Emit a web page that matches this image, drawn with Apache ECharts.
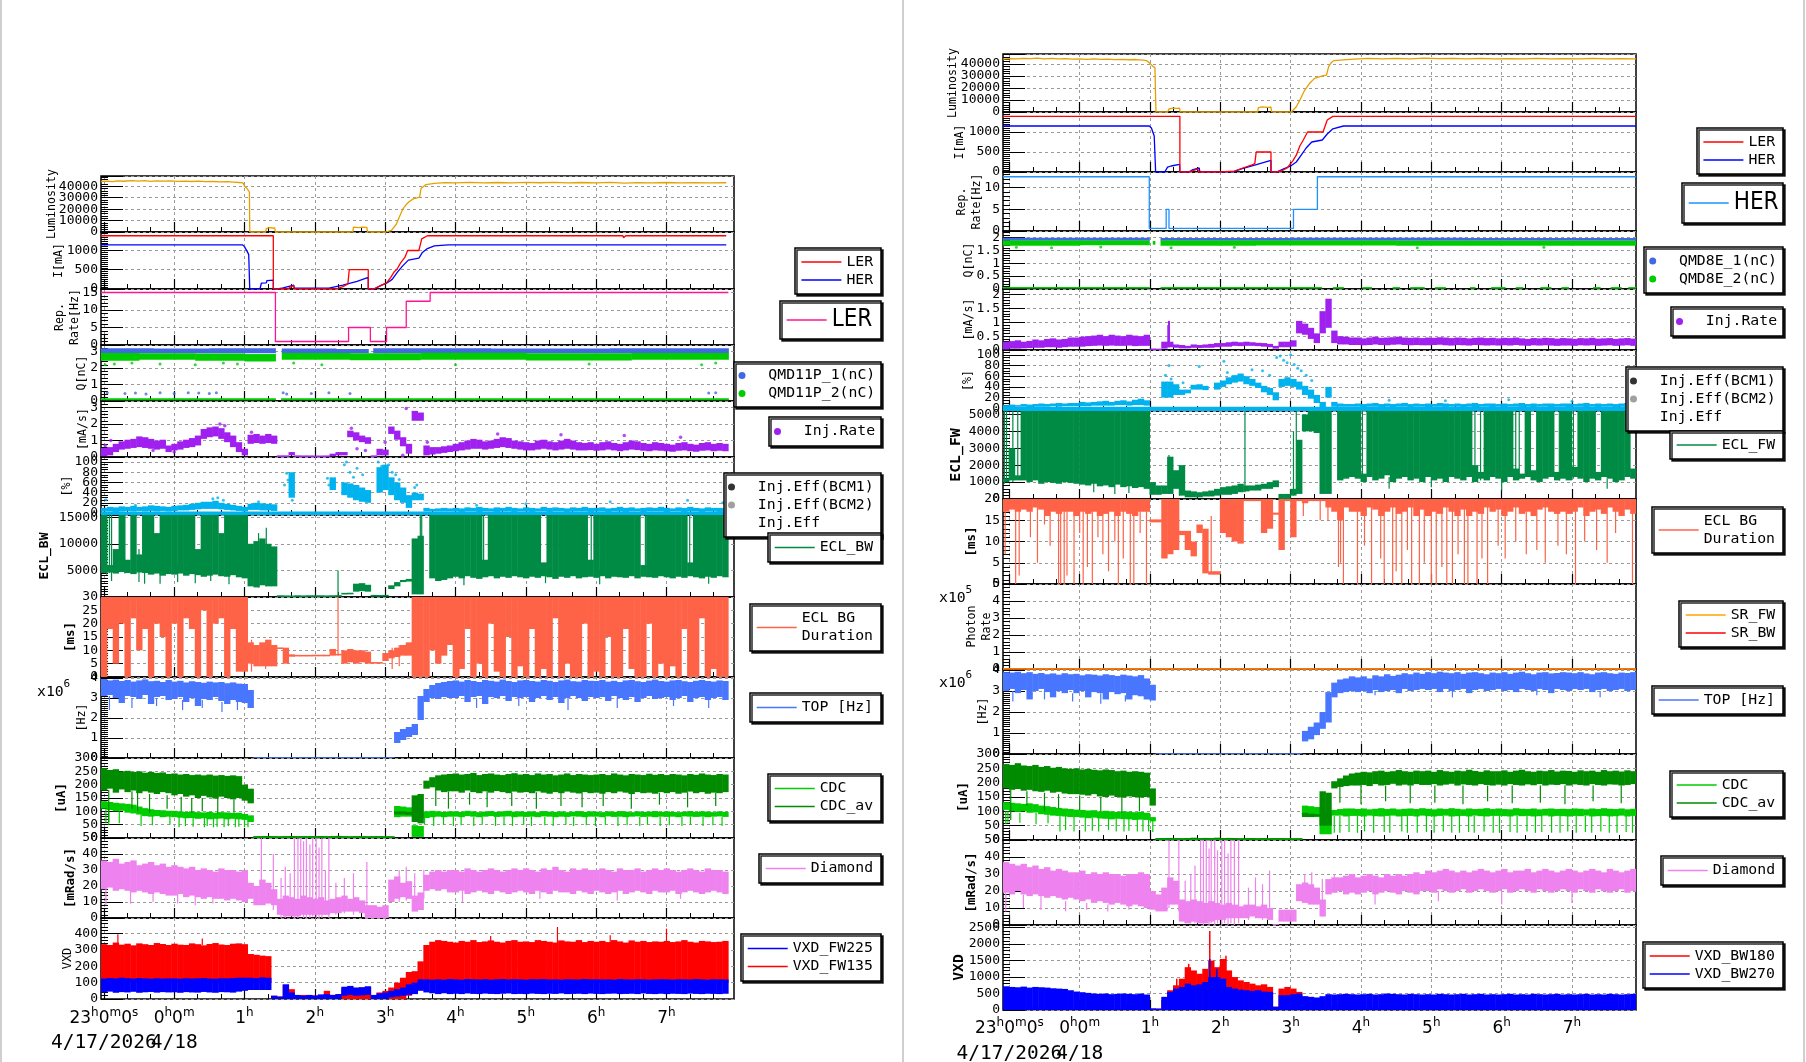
<!DOCTYPE html>
<html><head><meta charset="utf-8">
<script src="https://cdn.jsdelivr.net/npm/echarts@6/dist/echarts.min.js"></script>
<style>html,body{margin:0;padding:0;background:#fff}#c{width:1806px;height:1062px}</style>
</head><body><div id="c"></div>
<script>
// ---------------- DATA ----------------
const DT = 1/12;          // sampling step of banded series (hours)
const LT0 = -1.04;        // left panel: first sample time (h, rel. to 0:00 4/18)
const RT0 = -1.09;        // right panel: first sample time
const HOURS = [-1,0,1,2,3,4,5,6,7];
const HOUR_LABELS = {'-1':'{n|23}{s|h}{n|0}{s|m}{n|0}{s|s}','0':'{n|0}{s|h}{n|0}{s|m}','1':'{n|1}{s|h}','2':'{n|2}{s|h}','3':'{n|3}{s|h}','4':'{n|4}{s|h}','5':'{n|5}{s|h}','6':'{n|6}{s|h}','7':'{n|7}{s|h}'};
const DATE_LABELS = [[-1,'4/17/2026'],[0,'4/18']];

// y tick labels per panel
const L_YTICKS = [[0,10000,20000,30000,40000],[0,500,1000],[0,5,10,15],[0,1,2,3],[0,1,2,3],[0,20,40,60,80,100],[5000,10000,15000],[0,5,10,15,20,25,30],[0,1,2,3,4],[0,50,100,150,200,250,300],[0,10,20,30,40,50],[0,100,200,300,400]];
const R_YTICKS = [[0,10000,20000,30000,40000],[0,500,1000],[0,5,10],[0,0.5,1,1.5,2],[0,0.5,1,1.5,2],[0,20,40,60,80,100],[0,1000,2000,3000,4000,5000],[0,5,10,15,20],[0,1,2,3,4,5],[0,1,2,3,4],[0,50,100,150,200,250,300],[0,10,20,30,40,50],[0,500,1000,1500,2000,2500]];

// ---- LEFT (LER side) ----
const L_LUM = [[-1.04,44200],[-0.95,44600],[-0.88,44100],[-0.8,44700],[-0.72,44400],[-0.6,45000],[-0.5,44600],[-0.42,44900],[-0.33,44300],[-0.25,44800],[-0.15,44500],[-0.05,44700],[0.05,44300],[0.15,44600],[0.25,44200],[0.35,44500],[0.45,44000],[0.55,44200],[0.65,43800],[0.75,44000],[0.85,43600],[0.92,43300],[0.98,43000],[1.0,40000],[1.04,37800],[1.07,35000],[1.075,0],[1.3,0],[1.31,3000],[1.35,3800],[1.4,3500],[1.43,3600],[1.44,0],[2.54,0],[2.55,4200],[2.62,3900],[2.68,4300],[2.74,4100],[2.75,0],[3.01,0],[3.09,1500],[3.16,7000],[3.2,13000],[3.25,20000],[3.3,24000],[3.34,26500],[3.4,29000],[3.49,30500],[3.51,38000],[3.58,41500],[3.7,42500],[3.85,43200],[4.0,43000],[4.2,43400],[4.4,42900],[4.6,43300],[4.8,43000],[5.0,43500],[5.2,43100],[5.4,43400],[5.6,42900],[5.8,43300],[6.0,43000],[6.2,43400],[6.4,42800],[6.6,43200],[6.8,43000],[7.0,43300],[7.2,42900],[7.4,43200],[7.6,42900],[7.85,43100]];
const L_LER_I = [[-1.04,1383],[1.41,1383],[1.41,0],[1.62,0],[1.65,50],[1.7,85],[1.71,0],[2.3,0],[2.4,60],[2.47,130],[2.49,505],[2.76,505],[2.76,0],[2.84,0],[2.95,100],[3.02,160],[3.08,300],[3.13,450],[3.17,520],[3.22,680],[3.28,820],[3.32,1000],[3.48,1000],[3.52,1300],[3.6,1383],[6.38,1383],[6.39,1330],[6.42,1383],[7.85,1383]];
const L_HER_I = [[-1.04,1148],[0.97,1148],[1.0,1100],[1.06,900],[1.075,0],[1.22,0],[1.24,150],[1.31,160],[1.32,220],[1.41,230],[1.41,0],[1.47,0],[1.55,30],[1.7,100],[1.71,20],[2.2,20],[2.4,100],[2.6,200],[2.76,300],[2.76,0],[2.84,0],[2.95,100],[3.02,150],[3.1,250],[3.18,450],[3.25,600],[3.33,750],[3.48,800],[3.53,950],[3.6,1050],[3.7,1120],[3.9,1148],[7.85,1148]];
const L_REP = [[-1.04,15],[1.44,15],[1.44,1],[2.48,1],[2.48,5],[2.79,5],[2.79,1],[3.02,1],[3.02,5],[3.3,5],[3.3,12.5],[3.64,12.5],[3.64,15],[7.88,15]];
// Q bands: [t0, t1, lo, hi]
const L_Q1 = [[-1.04,-0.3,2.9,3.2],[-0.3,0.5,2.9,3.18],[0.5,1.44,2.9,3.21],[1.53,2.3,2.9,3.18],[2.3,2.76,2.9,3.16],[2.83,4.5,2.9,3.2],[4.5,6.2,2.9,3.18],[6.2,7.88,2.9,3.21]];
const L_Q2 = [[-1.04,-0.5,2.45,2.92],[-0.5,0.3,2.5,2.9],[0.3,1.0,2.45,2.88],[1.0,1.44,2.4,2.85],[1.53,2.5,2.5,2.92],[2.5,3.5,2.48,2.9],[3.5,5.0,2.5,2.93],[5.0,6.5,2.46,2.9],[6.5,7.88,2.5,2.92]];
const L_Q2_LOW = [[-1.04,1.44,0.04,0.16],[1.52,7.88,0.04,0.16]];
const L_Q1_DOTS = [[-0.95,0.5],[-0.7,0.45],[-0.55,0.48],[-0.4,0.42],[-0.2,0.5],[0.0,0.45],[0.2,0.5],[0.35,0.48],[0.5,0.45],[0.6,0.5],[1.55,0.5],[1.6,0.42],[1.95,0.45],[2.2,0.5],[2.5,0.45],[7.6,0.48],[7.7,0.5]];
const L_Q2_DOTS = [[-0.98,2.2],[-0.85,2.25],[-0.6,2.3],[-0.2,2.25],[0.3,2.2],[0.7,2.3],[0.9,2.25],[1.7,2.3],[2.1,2.2],[4.0,2.2],[5.9,2.25],[7.5,2.2],[7.7,2.3]];
const L_RATE_HI = [
0.55,0.6,0.8,0.95,1.05,1.1,1.25,1.2,1.1,1.0,1.05,0.7,
0.8,0.95,1.05,1.15,1.3,1.7,1.8,1.85,1.75,1.5,1.3,0.9,
0.5,1.35,1.4,1.3,1.4,1.3,0.08,0.08,0.3,0.08,0.07,0.07,
0.06,0.06,0.07,0.2,0.3,0.3,1.6,1.5,1.3,1.2,0.08,0.5,
0.45,1.85,1.6,1.2,0.8,2.8,2.7,0.7,0.6,0.6,0.65,0.7,
0.8,0.9,1.0,1.1,1.05,0.95,1.0,1.1,1.2,1.15,1.0,0.95,
0.9,0.85,1.0,1.05,0.95,0.9,1.0,1.1,1.0,0.9,0.85,0.9,
0.8,0.9,0.95,0.85,0.8,0.9,1.0,0.95,0.85,0.8,0.9,0.85,
0.8,0.75,0.85,0.9,0.8,0.75,0.85,0.9,0.8,0.85,0.8,null];
const L_RATE_LO = [
0.05,0.1,0.3,0.45,0.5,0.55,0.6,0.55,0.5,0.45,0.5,0.3,
0.4,0.45,0.55,0.6,0.7,1.1,1.2,1.25,1.1,0.9,0.6,0.3,
0.1,0.8,0.85,0.8,0.85,0.8,0.02,0.02,0.1,0.02,0.02,0.02,
0.02,0.02,0.02,0.05,0.1,0.1,1.2,1.0,0.9,0.8,0.02,0.1,
0.1,1.4,1.05,0.65,0.2,2.2,2.2,0.1,0.15,0.2,0.25,0.3,
0.35,0.4,0.45,0.5,0.5,0.45,0.5,0.55,0.6,0.55,0.5,0.45,
0.4,0.4,0.45,0.5,0.45,0.4,0.45,0.5,0.45,0.4,0.4,0.42,
0.38,0.4,0.45,0.4,0.35,0.4,0.45,0.42,0.38,0.35,0.4,0.38,
0.35,0.32,0.38,0.4,0.35,0.32,0.38,0.4,0.35,0.38,0.35,null];
const L_RATE_DOTS = [[-0.98,0.7],[-0.9,1.0],[-0.3,0.4],[0.0,0.3],[0.65,2.0],[0.72,1.9],[1.1,1.5],[2.52,1.75],[2.6,0.5],[2.72,0.4],[3.0,0.9],[3.3,2.95],[3.25,0.1],[3.6,0.9],[4.6,1.4],[5.5,1.35],[6.4,1.3],[7.2,1.2]];
const L_EFF_BASE = [[-1.04,7.88,-4,3]];
const L_EFF_HI = [
10,12,11,13,12,14,12,13,15,14,13,12,
14,15,16,18,20,22,22,24,20,18,16,14,
12,18,20,19,18,17,null,null,80,null,null,null,
null,null,null,70,null,60,58,55,50,45,null,90,
95,70,60,50,35,40,38,10,8,9,10,9,
10,9,11,10,12,10,9,11,10,12,10,9,
11,10,9,12,10,11,10,9,11,10,12,10,
10,11,9,10,12,10,11,9,10,11,10,12,
10,9,11,10,12,10,9,11,10,10,9,null];
const L_EFF_LO = [
3,3,2,3,4,3,4,3,4,3,4,3,
4,5,5,6,7,8,8,8,7,6,5,4,
3,6,6,5,5,4,null,null,30,null,null,null,
null,null,null,45,null,35,30,25,22,20,null,40,
45,35,25,20,10,25,25,3,3,3,3,3,
3,2,3,3,2,3,3,2,3,3,2,3,
3,2,3,3,2,3,3,2,3,3,3,2,
3,3,2,3,3,2,3,3,2,3,3,3,
2,3,3,2,3,3,2,3,3,2,3,null];
const L_EFF_DOTS = [[-0.97,26],[-0.55,15],[0.55,28],[0.7,25],[0.62,30],[1.2,22],[1.57,55],[1.6,78],[1.62,65],[1.65,45],[1.68,25],[2.18,68],[2.2,55],[2.42,95],[2.45,100],[2.5,80],[2.55,70],[2.6,88],[2.68,75],[2.9,100],[2.95,92],[3.0,85],[3.05,95],[3.1,80],[3.15,75],[3.2,66],[3.42,50],[3.45,55],[4.3,15],[5.0,18],[6.2,22],[7.3,25],[7.8,20]];
const L_ECL_HI = [
15400,6000,9000,15400,7000,15400,8000,15400,15400,12000,15400,15400,
15400,15400,15400,15400,9000,15400,15400,15400,12000,15400,15400,15400,
15400,10000,10500,11000,10000,9500,300,250,200,300,250,300,
300,300,250,300,350,700,700,2500,2600,2300,400,350,
400,2200,2800,3200,3400,11000,11500,null,15400,15400,15400,15400,
15400,15400,15400,15400,15400,7000,15400,15400,15400,15400,15400,15400,
15400,15400,15400,6500,15400,15400,15400,15400,15400,15400,15400,7000,
15400,15400,15400,15400,15400,15400,15400,15400,6000,15400,15400,15400,
15400,15400,15400,15400,6500,15400,15400,15400,15400,15400,15400,null];
const L_ECL_LO = [
4500,4600,4400,4700,4500,4300,4600,4500,4200,4400,4000,4300,
4200,4400,4000,4300,4100,3800,4000,4200,3900,3800,4100,3700,
3500,2000,1800,2200,2000,2000,50,50,50,50,50,50,
50,50,50,50,50,550,600,1000,1100,1000,100,100,
100,1500,2000,2800,2900,500,500,null,3500,3000,3200,3500,
3800,3500,3900,3600,3400,3700,3900,3500,3800,3600,3900,3700,
3500,3800,3600,3900,3700,3400,3800,3600,3900,3500,3700,3800,
3600,3900,3500,3800,3700,3600,3900,3500,3800,3700,3600,3900,
3700,3500,3800,3600,3900,3700,3500,3800,3600,3900,3700,null];
const L_ECL_SPK = [[-0.96,4200,15400],[-0.92,4500,15400],[-0.89,3000,15400],[-0.7,4400,15400],[-0.56,4300,15400],[-0.42,2500,15400],[-0.5,2800,9000],[-0.2,2500,7000],[0.05,2800,6000],[0.3,2600,7000],[0.52,3000,8000],[0.78,2400,6000],[1.2,1800,12000],[1.31,2000,13000],[2.33,200,5000],[3.5,500,15400],[3.52,3000,15400],[4.12,2200,5000],[4.4,5000,15400],[4.47,5200,15400],[5.2,5000,15400],[5.28,2600,5000],[5.93,5500,15400],[6.05,2400,5000],[6.7,5000,15400],[6.76,4800,15400],[7.33,4200,15400],[7.6,2500,5000]];
const L_BG_HI = [
30,30,30,30,30,30,30,30,30,30,30,30,
30,30,30,30,30,30,30,30,30,30,30,30,
30,13,12,13,14,12,11,11,8.5,8.2,8.2,8.2,
8.3,8.3,8.3,10.5,8.6,10,10.5,10,10,9.5,5.6,5.6,
9,10,11,12,13,30,30,30,30,30,30,30,
30,30,30,30,30,30,30,30,30,30,30,30,
30,30,30,30,30,30,30,30,30,30,30,30,
30,30,30,30,30,30,30,30,30,30,30,30,
30,30,30,30,30,30,30,30,30,30,30,null];
const L_BG_LO = [
0,18,5,20,0,22,10,18,0,20,15,0,
20,0,22,18,0,25,0,20,22,0,18,2,
2,5,4,4,4,4,10.6,5,7.6,7.8,7.8,7.8,
7.8,7.8,7.8,8,8.2,5,5.5,5,5.5,5,5,5,
6,7,7.5,8,8,0,0,0,10,5,8,12,
0,3,18,0,5,0,20,2,0,15,0,4,
0,18,0,3,0,22,0,5,0,0,20,0,
2,0,15,0,0,18,3,0,0,20,0,5,
0,4,0,18,0,0,22,0,3,0,0,null];
const L_BG_SPK = [[2.33,8,30],[1.3,3,13],[1.1,2,14],[3.1,3,11],[3.2,4,12],[-0.98,0,30],[4.05,0,30],[5.55,0,30],[6.6,0,30]];
const L_TOP_HI = [
3.95,3.88,3.92,3.85,3.9,3.82,3.88,3.93,3.84,3.86,3.8,3.9,
3.82,3.86,3.78,3.84,3.8,3.76,3.82,3.78,3.8,3.74,3.78,3.72,
3.7,3.4,0,0,0,0,0,0,0,0,0,0,
0,0,0,0,0,0,0,0,0,0,0,0,
0,0,1.3,1.45,1.55,1.7,3.1,3.45,3.65,3.75,3.8,3.85,
3.88,3.82,3.9,3.85,3.8,3.9,3.86,3.82,3.92,3.85,3.8,3.88,
3.9,3.85,3.82,3.9,3.86,3.8,3.88,3.92,3.84,3.82,3.9,3.86,
3.85,3.9,3.82,3.86,3.8,3.88,3.9,3.84,3.8,3.87,3.92,3.85,
3.82,3.88,3.9,3.84,3.8,3.86,3.9,3.85,3.82,3.88,3.85,null];
const L_TOP_LO = [
3.1,3.15,3.0,2.75,3.1,3.05,2.95,3.15,2.7,3.05,3.1,2.9,
2.95,3.05,2.8,3.0,2.6,2.95,2.9,3.05,2.85,2.7,2.9,2.8,
2.75,2.5,0,0,0,0,0,0,0,0,0,0,
0,0,0,0,0,0,0,0,0,0,0,0,
0,0,0.75,0.9,1.05,1.15,1.9,2.8,3.0,2.95,3.05,3.0,
3.0,3.1,2.8,3.05,3.1,2.7,3.05,3.0,3.1,2.85,3.05,3.0,
3.05,2.8,3.0,3.1,2.9,3.05,2.75,3.0,3.1,3.0,2.85,3.05,
3.0,3.05,2.85,3.1,3.0,2.9,3.05,2.8,3.0,3.1,2.95,3.0,
3.05,2.9,3.0,3.1,2.8,3.0,3.05,2.9,3.0,3.05,2.9,null];
const L_TOP_SPK = [[-0.92,2.4,3.1],[-0.6,2.5,3.0],[-0.25,2.6,3.0],[0.12,2.4,2.9],[0.4,2.5,2.9],[0.68,2.3,2.8],[0.9,2.4,2.8],[4.3,2.5,3.0],[4.9,2.6,3.0],[5.6,2.4,3.0],[6.3,2.5,3.0],[7.1,2.6,3.0],[7.6,2.5,3.0]];
const L_CDCAV_HI = [
262,255,258,250,252,248,250,245,248,244,246,240,
242,238,240,236,238,235,238,234,236,233,235,232,
200,185,6,6,7,6,5,6,7,6,6,6,
6,7,6,6,8,6,5,6,6,5,6,6,
5,5,100,100,98,160,165,215,228,235,238,240,
242,238,240,244,236,240,242,238,236,240,243,238,
240,236,242,238,240,235,238,242,236,240,238,236,
238,240,236,242,238,235,240,238,236,241,237,240,
236,240,238,235,240,237,242,238,236,240,238,null];
const L_CDCAV_LO = [
178,185,170,182,172,178,168,175,170,165,172,168,
160,165,155,160,150,158,152,148,155,150,145,150,
140,130,2,2,2,2,2,2,2,2,2,2,
2,2,2,2,2,2,2,2,2,2,2,2,
2,2,88,88,86,60,55,185,190,178,172,175,
175,170,178,172,168,175,170,176,172,168,174,170,
172,168,175,170,166,172,168,174,170,167,172,168,
170,166,172,168,174,170,165,172,168,170,166,172,
168,172,166,170,174,168,172,166,170,168,172,null];
const L_CDC_HI = [
138,135,132,130,128,125,118,112,108,105,104,102,
102,100,98,100,97,96,98,95,97,96,94,95,
90,85,5,5,6,5,5,5,6,5,5,5,
5,6,5,5,7,5,5,5,5,5,5,5,
5,5,120,118,115,48,45,100,102,100,98,100,
100,98,102,100,97,99,101,98,100,102,99,100,
98,100,97,101,99,98,100,97,99,101,98,100,
99,97,100,98,101,99,97,100,98,99,101,98,
100,98,97,99,101,98,100,99,97,100,98,null];
const L_CDC_LO = [
110,105,100,102,95,92,88,82,80,82,78,80,
78,76,74,75,72,74,70,72,73,70,72,70,
68,60,1,1,1,1,1,1,1,1,1,1,
1,1,1,1,1,1,1,1,1,1,1,1,
1,1,78,80,80,4,4,75,78,80,78,80,
80,78,82,80,78,80,82,79,80,81,78,80,
79,80,78,81,80,78,80,79,81,80,78,80,
80,78,81,79,80,78,80,81,79,80,78,80,
79,80,78,81,80,79,80,78,80,81,79,null];
const L_CDC_SPK = [[-0.97,55,110],[-0.93,50,105],[-0.78,55,100],[-0.47,45,95],[-0.31,48,90],[-0.06,50,85],[0.07,40,80],[0.16,45,80],[0.27,42,80],[0.43,40,80],[0.47,45,80],[0.56,40,80],[0.61,42,80],[0.71,40,80],[0.77,45,80],[0.87,40,80],[0.92,42,78],[1.0,40,75],[1.05,40,70],[3.56,50,80],[3.69,45,80],[3.83,50,80],[3.97,45,80],[4.08,48,80],[4.26,45,80],[4.38,50,80],[4.57,45,80],[4.69,48,80],[4.81,45,80],[4.97,50,80],[5.08,45,80],[5.27,48,80],[5.39,45,80],[5.57,50,80],[5.68,45,80],[5.86,48,80],[5.99,45,80],[6.13,50,80],[6.31,45,80],[6.44,48,80],[6.62,45,80],[6.73,50,80],[6.91,45,80],[7.04,48,80],[7.22,45,80],[7.34,50,80],[7.52,45,80],[7.66,48,80],[7.79,45,80]];
const L_CDCAV_SPK = [[-0.93,60,180],[-0.6,110,175],[-0.52,100,170],[-0.35,95,165],[-0.1,110,160],[0.1,100,155],[0.25,95,150],[0.4,100,150],[0.62,90,150],[0.85,95,145],[3.72,120,180],[3.9,110,175],[4.2,125,170],[4.45,115,175],[4.8,120,170],[5.15,110,172],[5.5,120,170],[5.8,115,172],[6.1,120,170],[6.5,110,172],[6.9,125,170],[7.3,115,172],[7.7,120,170]];
const L_DIA_HI = [
36,35,37,34,35,36,33,34,35,33,34,32,
33,32,31,32,30,31,30,29,31,30,30,29,
30,22,20,24,22,18,12,14,13,12,14,13,
12,13,11,12,13,14,12,13,11,8,8,7,
8,24,26,22,23,14,16,27,29,30,29,30,
30,29,31,30,29,30,31,30,29,30,31,30,
31,30,29,31,30,32,30,29,31,30,31,30,
30,31,30,29,31,30,30,31,29,30,31,30,
31,30,29,30,31,30,29,31,30,30,29,null];
const L_DIA_LO = [
18,19,17,18,17,16,17,16,15,16,15,14,
14,15,13,14,13,12,13,12,12,11,12,11,
10,12,8,8,9,8,2,1,1,1,2,2,
2,2,2,3,3,4,4,4,3,0,0,0,
0,10,12,13,12,4,5,17,18,17,18,16,
16,17,15,16,17,16,15,17,16,15,16,17,
16,15,17,16,15,17,16,16,15,17,16,15,
17,16,15,16,17,15,16,17,16,15,17,16,
16,17,15,16,17,16,15,16,17,16,15,null];
const L_DIA_SPK = [[-0.97,8,20],[-0.62,9,18],[-0.3,10,17],[0.05,9,15],[0.3,8,14],[0.55,9,13],[1.24,10,50],[1.41,5,40],[1.52,0,25],[1.58,0,32],[1.65,2,28],[1.71,0,50],[1.76,0,50],[1.8,2,50],[1.84,0,48],[1.88,0,50],[1.93,0,46],[1.97,1,50],[2.02,0,50],[2.06,0,44],[2.1,0,50],[2.15,2,30],[2.2,0,50],[2.3,2,22],[2.42,3,25],[2.55,2,28],[2.74,0,35],[3.2,10,30],[3.3,11,32],[3.42,5,28],[3.55,12,30],[4.1,10,22],[5.2,12,20],[6.3,11,20],[7.2,12,18]];
const L_VXD135_HI = [
335,330,345,332,338,328,340,335,330,342,336,330,
338,332,330,340,335,328,336,342,333,330,338,340,
335,275,270,265,262,20,15,85,60,20,25,20,
20,25,50,25,30,65,72,68,70,72,15,40,
50,70,100,130,165,170,230,330,350,360,355,350,
345,355,350,360,348,352,358,350,345,355,360,350,
352,348,360,355,350,345,358,352,350,360,348,355,
350,355,348,360,352,345,358,350,355,348,352,350,
355,348,352,360,350,345,355,352,348,350,355,null];
const L_VXD135_LO = [
100,100,100,100,100,100,100,100,100,100,100,100,
100,100,100,100,100,100,100,100,100,100,100,100,
100,100,100,100,100,0,0,0,0,0,0,0,
0,0,0,0,0,0,0,0,0,0,0,0,
0,0,0,0,20,40,60,100,100,100,100,100,
100,100,100,100,100,100,100,100,100,100,100,100,
100,100,100,100,100,100,100,100,100,100,100,100,
100,100,100,100,100,100,100,100,100,100,100,100,
100,100,100,100,100,100,100,100,100,100,100,null];
const L_VXD135_SPK = [[-0.8,300,395],[0.4,330,370],[4.5,340,385],[5.45,340,440],[6.2,340,390],[7.0,340,430]];
const L_VXD225_HI = [
125,128,126,130,127,125,128,126,124,127,125,126,
126,124,127,125,126,128,125,124,127,126,128,130,
130,130,128,132,130,20,15,90,40,25,20,25,
22,28,30,25,30,75,80,70,72,78,25,35,
40,50,60,70,90,100,120,120,118,120,118,122,
120,118,122,120,119,121,118,120,122,119,121,120,
118,121,120,122,119,120,118,121,120,119,122,120,
121,119,120,118,122,120,119,121,120,118,120,121,
120,118,121,120,119,122,120,118,121,120,119,null];
const L_VXD225_LO = [
40,45,38,42,40,44,38,41,43,39,42,40,
41,38,42,40,39,43,40,38,42,41,39,45,
50,55,55,55,55,0,0,0,0,0,0,0,
0,0,0,0,0,20,25,20,22,25,0,0,
0,10,15,20,25,30,50,40,35,30,35,30,
32,30,34,31,30,33,31,30,32,34,30,31,
30,33,31,30,32,31,34,30,31,32,30,33,
31,30,32,33,30,31,32,30,34,31,30,32,
30,32,31,30,33,31,30,32,31,30,32,null];

// ---- RIGHT (HER side) ----
const R_LUM = [[-1.09,44000],[-1.0,44500],[-0.9,44200],[-0.8,44700],[-0.7,44400],[-0.6,44800],[-0.5,44300],[-0.4,44600],[-0.3,44200],[-0.2,44500],[-0.1,44100],[0.0,44300],[0.1,43900],[0.2,44200],[0.3,43800],[0.4,44000],[0.5,43600],[0.6,43800],[0.7,43500],[0.8,43700],[0.9,43200],[0.95,42800],[1.0,40500],[1.04,38000],[1.07,37000],[1.085,0],[1.25,0],[1.27,2500],[1.32,3200],[1.38,3000],[1.42,3300],[1.43,0],[2.53,0],[2.54,3600],[2.6,4200],[2.66,3800],[2.72,4000],[2.73,0],[3.01,0],[3.08,4400],[3.12,8600],[3.2,18300],[3.27,23900],[3.34,28000],[3.45,30000],[3.51,30800],[3.54,37800],[3.57,40600],[3.61,42800],[3.75,43400],[3.9,44000],[4.1,44600],[4.3,44200],[4.5,44700],[4.7,44300],[4.9,44800],[5.1,44400],[5.3,44700],[5.5,44300],[5.7,44600],[5.9,44200],[6.1,44500],[6.3,44300],[6.5,44600],[6.7,44200],[6.9,44500],[7.1,44300],[7.3,44600],[7.5,44200],[7.7,44500],[7.91,44300]];
const R_LER_I = [[-1.09,1391],[1.425,1391],[1.425,0],[1.57,0],[1.62,40],[1.68,80],[1.69,0],[1.99,0],[2.2,20],[2.32,100],[2.45,180],[2.49,210],[2.51,500],[2.72,500],[2.72,0],[2.8,0],[2.87,30],[2.95,100],[3.03,280],[3.08,420],[3.13,650],[3.18,800],[3.24,1000],[3.46,1000],[3.52,1300],[3.6,1391],[5.32,1391],[5.33,1350],[5.35,1391],[6.0,1391],[6.01,1360],[6.03,1391],[7.91,1391]];
const R_HER_I = [[-1.09,1150],[0.99,1150],[1.02,1100],[1.06,900],[1.08,0],[1.21,0],[1.25,120],[1.3,150],[1.42,190],[1.425,0],[1.55,0],[1.6,50],[1.7,100],[1.71,5],[2.18,5],[2.3,80],[2.5,180],[2.72,290],[2.72,0],[2.8,0],[2.9,80],[3.0,150],[3.08,250],[3.15,420],[3.22,600],[3.3,750],[3.45,800],[3.52,950],[3.6,1080],[3.75,1150],[5.32,1150],[5.33,1120],[5.35,1150],[7.91,1150]];
const R_REP = [[-1.09,12.5],[0.99,12.5],[0.99,0.6],[1.23,0.6],[1.23,5],[1.27,5],[1.27,0.6],[3.04,0.6],[3.04,5],[3.38,5],[3.38,12.5],[7.91,12.5]];
const R_Q1 = [[-1.09,0.99,1.87,1.99],[1.15,3.0,1.87,1.98],[3.0,5.5,1.87,1.99],[5.5,7.91,1.87,1.98]];
const R_Q2 = [[-1.09,0.0,1.68,1.88],[0.0,0.99,1.7,1.88],[1.04,1.07,1.72,1.86],[1.15,2.5,1.68,1.88],[2.5,4.5,1.69,1.88],[4.5,7.91,1.68,1.87]];
const R_Q2_LOW = [[-1.09,0.99,0.02,0.08],[1.15,3.44,0.02,0.08],[3.6,3.75,0.02,0.07],[4.02,4.15,0.02,0.07],[4.45,4.55,0.02,0.07],[4.7,4.9,0.02,0.07],[5.05,5.2,0.02,0.07],[5.55,5.62,0.02,0.07],[5.85,6.05,0.02,0.07],[6.2,6.3,0.02,0.07],[6.55,6.7,0.02,0.07],[6.85,6.95,0.02,0.07],[7.3,7.4,0.02,0.07],[7.55,7.7,0.02,0.07],[7.8,7.91,0.02,0.07]];
const R_Q2_DOTS = [[-0.9,1.62],[-0.4,1.6],[0.3,1.63],[1.3,1.6],[2.2,1.62],[4.8,1.6],[6.6,1.62]];
const R_RATE_HI = [
0.3,0.32,0.35,0.3,0.33,0.38,0.35,0.4,0.42,0.38,0.4,0.45,
0.45,0.48,0.5,0.52,0.55,0.5,0.55,0.52,0.5,0.55,0.52,0.5,
0.55,0.05,0.04,0.3,0.3,0.2,0.18,0.15,0.2,0.18,0.2,0.22,
0.25,0.25,0.28,0.3,0.28,0.3,0.28,0.26,0.25,0.22,0.15,0.3,
0.3,0.35,1.05,0.95,0.8,0.6,1.4,1.85,0.7,0.5,0.48,0.45,
0.45,0.42,0.45,0.48,0.44,0.45,0.46,0.48,0.45,0.44,0.45,0.43,
0.45,0.44,0.46,0.45,0.43,0.45,0.44,0.42,0.44,0.45,0.43,0.44,
0.42,0.44,0.43,0.45,0.42,0.4,0.43,0.42,0.44,0.43,0.41,0.43,
0.42,0.4,0.43,0.42,0.44,0.41,0.42,0.43,0.4,0.42,0.43,0.41];
const R_RATE_LO = [
0.02,0.05,0.05,0.06,0.07,0.08,0.08,0.1,0.1,0.08,0.1,0.12,
0.12,0.12,0.14,0.15,0.16,0.15,0.16,0.15,0.15,0.16,0.14,0.15,
0.15,0.0,0.0,0.05,0.1,0.08,0.06,0.06,0.08,0.07,0.08,0.08,
0.1,0.12,0.12,0.15,0.14,0.15,0.15,0.14,0.12,0.1,0.05,0.1,
0.1,0.12,0.6,0.55,0.4,0.25,0.6,0.8,0.25,0.2,0.2,0.18,
0.18,0.17,0.18,0.2,0.18,0.17,0.19,0.2,0.18,0.17,0.18,0.17,
0.17,0.18,0.19,0.17,0.16,0.18,0.17,0.16,0.18,0.17,0.16,0.17,
0.16,0.17,0.16,0.18,0.16,0.15,0.17,0.16,0.17,0.16,0.15,0.16,
0.16,0.15,0.17,0.16,0.17,0.15,0.16,0.17,0.15,0.16,0.17,0.15];
const R_RATE_SPK = [[1.27,0.1,1.05],[1.26,0.2,0.9]];
const R_EFF_BASE = [[-1.09,7.91,-5,3]];
const R_EFF_HI = [
6,7,6,8,7,8,9,8,9,10,9,10,
10,12,11,12,13,14,12,14,15,13,16,18,
15,null,null,50,50,45,35,35,44,45,42,null,
48,52,58,62,65,60,55,48,42,38,30,55,
58,55,50,42,35,25,12,40,12,9,8,8,
9,8,9,10,8,9,8,9,10,8,9,8,
9,8,10,9,8,9,8,9,10,8,9,9,
8,9,8,9,10,8,9,8,9,9,8,9,
9,8,9,10,8,9,8,9,8,9,10,8];
const R_EFF_LO = [
2,2,3,3,2,3,3,3,4,3,4,4,
4,4,4,5,5,5,5,6,6,5,6,6,
5,null,null,20,20,25,25,28,35,35,34,null,
35,40,45,48,50,45,42,38,30,25,15,40,
42,40,35,25,18,10,2,20,3,3,3,3,
3,2,3,3,2,3,2,3,3,2,3,3,
2,3,3,2,3,3,2,3,2,3,3,2,
3,2,3,3,2,3,2,3,3,2,3,3,
2,3,3,2,3,2,3,3,2,3,2,3];
const R_EFF_DOTS = [[1.22,62],[1.27,80],[1.3,55],[1.47,48],[1.7,78],[2.05,88],[2.1,67],[2.45,72],[2.6,70],[2.7,62],[2.8,95],[2.85,98],[2.9,90],[2.95,85],[3.0,100],[3.05,82],[3.1,75],[3.15,70],[3.22,62],[3.3,52],[4.4,15],[5.2,14],[6.1,16],[7.0,13]];
const R_ECL_HI = [
1200,3000,1400,5200,5200,5200,5200,5200,5200,5200,5200,5200,
5200,5200,5200,5200,5200,5200,5200,5200,5200,5200,5200,5200,
5200,1000,800,800,2500,1700,2000,500,450,400,450,500,
600,700,750,800,900,800,800,850,900,1000,1100,300,
300,600,3500,5000,5200,5200,5200,5200,null,5200,5200,5200,
5200,1500,5200,5200,5200,5200,5200,5200,5200,5200,5200,5200,
5200,5200,5200,5200,5200,5200,5200,5200,2000,1600,5200,5200,
5200,5200,5200,1800,1500,5200,1700,5200,5200,5200,1600,5200,
5200,1900,5200,5200,5200,1600,5200,5200,5200,5200,5200,1800];
const R_ECL_LO = [
1000,1100,1100,1100,1000,1100,900,1000,950,900,1000,950,
900,850,800,900,750,800,700,850,700,750,650,700,
600,250,250,300,300,600,200,100,100,100,150,150,
200,250,250,300,400,450,500,500,600,600,700,0,
0,200,300,4000,4000,3900,300,300,null,1100,1200,1300,
1200,1000,1300,1100,1200,1400,1000,1200,1300,1100,1200,1000,
1300,1100,1200,1000,1300,1200,1100,1300,1000,1200,1100,1300,
1200,1000,1300,1100,1200,1300,1100,1000,1200,1300,1100,1200,
1100,1300,1200,1000,1200,1100,1300,1200,1000,1100,1300,1200];
const R_ECL_SPK = [[-1.07,900,5200],[-1.04,1000,5200],[-1.0,1100,3000],[-0.95,1000,5200],[-0.88,1300,5200],[-0.82,1200,5200],[0.2,400,1000],[0.5,300,900],[0.7,350,800],[1.27,300,2600],[1.42,200,2000],[2.35,400,5200],[3.04,200,4000],[3.08,300,5200],[4.02,1200,5200],[4.4,600,1300],[5.0,700,1200],[5.62,1200,5200],[5.7,1100,5200],[6.0,500,1200],[6.2,1300,5200],[6.25,1200,5200],[6.5,1200,5200],[6.82,1100,5200],[7.02,1200,5200],[7.33,1200,5200],[7.5,600,1200]];
const R_BG_HI = [
20,20,20,20,20,20,20,20,20,20,20,20,
20,20,20,20,20,20,20,20,20,20,20,20,
20,15.2,15.2,20,20,20,12.5,12.5,10,14,13,3,
3,20,20,20,20,20,20,20,20,20,16.8,20,
20,20,20,20,20,20,20,20,20,20,20,20,
20,20,20,20,20,20,20,20,20,20,20,20,
20,20,20,20,20,20,20,20,20,20,20,20,
20,20,20,20,20,20,20,20,20,20,20,20,
20,20,20,20,20,20,20,20,20,20,20,20];
const R_BG_LO = [
17,17.5,17,17.5,17,18,17.5,16,17,16.5,17,17,
16,17,16.5,17,16,16.5,17,16,17,16.5,16,17,
17,14.5,14.5,6,7,8,11.5,8,6.5,12,2.5,2.2,
2.2,12,11,10,9.5,19.5,19.5,19.5,12,13,16.3,8,
19.5,11,19.5,19,19.5,19.5,19.5,18,17,15,18,17,
17,16,18,17.5,16,17,18,16.5,17,18,16,17.5,
16,17,16.5,18,17,16,17.5,16,17,16.5,18,17,
17.5,16,17,18,16.5,17,16,17.5,18,17,16.5,17,
16.5,17,18,16,17,17.5,16.5,18,17,16,17.5,16.5];
const R_BG_SPK = [[-1.06,7,20],[-0.91,0,20],[-0.86,2,20],[-0.7,11,20],[-0.6,5,20],[-0.5,14,20],[-0.42,9,20],[-0.3,0,20],[-0.27,0,20],[-0.22,0,20],[-0.18,2,20],[-0.08,0,20],[0.0,12,20],[0.05,0,20],[0.11,4,20],[0.18,0,20],[0.26,11,20],[0.33,7,20],[0.41,3,20],[0.5,10,20],[0.55,0,20],[0.62,6,20],[0.72,0,20],[0.77,0,20],[0.86,12,20],[0.95,0,20],[1.87,2.5,16],[3.18,16,20],[3.42,15,20],[3.53,15,20],[3.68,4,20],[3.71,5,20],[3.75,0,20],[3.95,0,20],[4.05,9,20],[4.15,0,20],[4.28,6,20],[4.33,0,20],[4.45,0,20],[4.5,3,20],[4.58,0,20],[4.66,8,20],[4.72,0,20],[4.83,0,20],[4.9,5,20],[5.0,0,20],[5.07,0,20],[5.15,4,20],[5.22,0,20],[5.3,0,20],[5.38,7,20],[5.47,0,20],[5.52,0,20],[5.65,0,20],[5.72,6,20],[5.8,0,20],[5.95,9,20],[6.05,6,20],[6.2,10,20],[6.35,7,20],[6.5,8,20],[6.62,5,20],[6.8,9,20],[6.92,7,20],[7.05,0,20],[7.18,10,20],[7.35,8,20],[7.5,5,20],[7.62,12,20],[7.86,0,20]];
const R_SR_FW = [[-1.09,0],[7.91,0]];
const R_SR_BW = [[-1.09,0],[7.91,0]];
const R_TOP_HI = [
3.9,3.88,3.92,3.85,3.9,3.82,3.86,3.8,3.84,3.78,3.85,3.8,
3.82,3.75,3.8,3.78,3.74,3.8,3.76,3.72,3.78,3.74,3.7,3.76,
3.6,3.3,0,0,0,0,0,0,0,0,0,0,
0,0,0,0,0,0,0,0,0,0,0,0,
0,0,0,1.1,1.3,1.5,2.0,2.95,3.4,3.55,3.6,3.7,
3.65,3.7,3.6,3.75,3.7,3.8,3.72,3.78,3.85,3.8,3.88,3.82,
3.9,3.85,3.92,3.88,3.85,3.9,3.82,3.88,3.9,3.85,3.8,3.88,
3.85,3.9,3.82,3.88,3.92,3.85,3.8,3.88,3.9,3.84,3.86,3.9,
3.88,3.85,3.9,3.84,3.8,3.88,3.9,3.85,3.82,3.88,3.86,3.9];
const R_TOP_LO = [
3.0,3.1,2.9,3.05,2.6,3.0,3.1,2.95,2.7,3.0,2.9,3.05,
2.9,3.0,2.7,2.95,2.9,2.6,2.95,2.85,2.9,2.6,2.8,2.75,
2.6,2.55,0,0,0,0,0,0,0,0,0,0,
0,0,0,0,0,0,0,0,0,0,0,0,
0,0,0,0.6,0.7,0.9,1.2,1.5,2.7,2.9,2.95,3.0,
2.95,3.0,2.9,3.05,2.95,3.0,3.05,2.9,3.1,3.0,3.05,3.1,
3.05,3.1,2.95,3.1,3.0,3.05,3.1,2.9,3.05,3.1,3.0,3.05,
3.1,3.0,3.05,2.95,3.1,3.05,3.0,3.1,3.05,2.9,3.1,3.05,
3.0,3.1,3.05,3.1,2.95,3.05,3.1,3.0,3.05,3.1,3.0,3.05];
const R_TOP_SPK = [[-0.95,2.5,3.0],[-0.5,2.6,3.0],[-0.1,2.5,2.9],[0.3,2.4,2.9],[0.65,2.5,2.8],[4.2,2.8,3.0],[5.3,2.7,3.1],[6.5,2.8,3.1],[7.4,2.7,3.0]];
const R_CDCAV_HI = [
265,262,268,260,258,262,255,258,252,255,250,248,
250,246,248,245,243,246,244,240,242,238,240,238,
235,180,6,6,7,6,5,6,8,6,7,6,
8,6,7,6,5,6,6,5,6,5,6,6,
5,5,5,95,92,90,170,165,205,215,225,232,
235,238,236,240,242,238,240,244,240,238,242,240,
242,238,244,240,238,242,240,245,241,238,243,240,
240,243,238,242,245,240,238,242,240,244,239,242,
241,238,243,240,242,238,244,240,242,239,243,240];
const R_CDCAV_LO = [
180,175,178,172,175,170,168,172,165,168,162,160,
160,158,155,160,152,150,155,150,148,152,150,148,
150,120,2,2,2,2,2,2,2,2,2,2,
2,2,2,2,2,2,2,2,2,2,2,2,
2,2,2,80,80,82,50,50,180,185,188,190,
190,192,188,195,190,192,196,190,193,190,195,192,
192,195,190,193,196,190,194,192,190,195,192,190,
193,190,195,192,190,194,191,195,190,193,192,195,
190,194,192,190,195,192,190,194,193,190,192,195];
const R_CDC_HI = [
132,130,128,126,128,125,120,118,115,112,110,108,
106,105,103,104,100,102,100,98,100,99,97,98,
95,80,5,5,6,5,5,6,5,5,6,5,
5,6,5,7,5,5,6,5,5,6,5,5,
5,5,5,120,118,115,100,95,105,108,110,110,
108,110,107,109,111,108,110,107,109,110,108,111,
109,107,110,108,111,109,107,110,108,109,111,108,
110,108,107,111,109,108,110,107,109,110,108,109,
108,110,109,107,110,108,111,109,108,110,107,109];
const R_CDC_LO = [
105,100,98,100,95,96,90,88,85,84,82,80,
80,78,76,78,75,74,72,74,73,72,70,71,
70,65,1,1,1,1,1,1,1,1,1,1,
1,1,1,1,1,1,1,1,1,1,1,1,
1,1,1,85,82,80,20,20,85,85,82,84,
84,82,85,83,82,84,85,82,83,84,82,85,
83,82,84,85,82,83,84,82,85,83,82,84,
84,83,82,85,83,84,82,83,85,82,84,83,
82,84,83,85,82,83,84,82,83,85,82,84];
const R_CDC_SPK = [[-1.05,55,100],[-1.02,60,100],[-0.85,60,95],[-0.62,55,95],[-0.45,58,90],[-0.28,30,85],[-0.2,35,85],[-0.08,30,80],[0.08,30,78],[0.18,32,78],[0.27,30,76],[0.41,35,76],[0.52,30,75],[0.63,30,75],[0.7,32,74],[0.82,30,72],[0.9,30,72],[0.98,30,70],[1.04,28,70],[3.62,25,84],[3.7,25,84],[3.83,28,84],[3.95,25,84],[4.05,30,84],[4.18,25,84],[4.33,28,84],[4.41,25,84],[4.58,30,84],[4.66,25,84],[4.8,25,84],[4.93,28,84],[5.04,25,84],[5.17,30,84],[5.29,25,84],[5.4,25,84],[5.53,28,84],[5.61,25,84],[5.75,30,84],[5.88,25,84],[5.97,25,84],[6.12,28,84],[6.22,25,84],[6.36,30,84],[6.48,25,84],[6.57,28,84],[6.71,25,84],[6.83,25,84],[6.94,30,84],[7.06,25,84],[7.19,28,84],[7.28,25,84],[7.41,30,84],[7.53,25,84],[7.64,25,84],[7.77,28,84],[7.86,25,84]];
const R_CDCAV_SPK = [[-0.98,70,175],[-0.75,120,170],[-0.5,100,165],[-0.3,110,160],[0.0,105,155],[0.3,100,150],[0.6,95,150],[0.85,100,150],[3.7,130,190],[4.0,125,190],[4.35,135,190],[4.7,128,190],[5.05,130,190],[5.45,125,190],[5.8,135,190],[6.15,128,190],[6.55,130,190],[6.9,125,190],[7.3,135,190],[7.7,128,190]];
const R_DIA_HI = [
37,36,35,36,34,35,33,34,32,33,32,31,
31,32,30,31,30,31,30,30,29,30,30,31,
30,20,18,22,28,26,15,14,15,14,13,14,
13,12,13,12,11,12,12,11,12,10,0,9,
9,9,24,25,24,22,15,27,28,28,29,30,
28,29,30,29,28,30,29,30,29,30,31,30,
32,31,32,33,32,31,32,31,32,33,32,31,
32,33,31,32,32,33,31,32,33,32,31,32,
33,32,31,32,33,32,31,33,32,31,32,33];
const R_DIA_LO = [
19,18,20,18,17,18,17,16,17,16,15,16,
15,14,15,13,14,13,12,13,12,11,12,11,
10,9,8,8,12,12,2,1,2,1,1,2,
3,3,4,4,4,4,5,4,4,3,0,2,
2,2,14,13,12,12,5,18,19,20,18,19,
18,19,20,18,19,20,19,18,20,19,18,20,
20,19,21,20,19,20,21,19,20,21,20,19,
20,21,19,20,21,20,19,21,20,19,20,21,
20,19,21,20,19,21,20,19,20,21,19,20];
const R_DIA_SPK = [[-1.05,8,20],[-0.8,10,18],[-0.55,9,17],[-0.2,8,14],[0.1,9,13],[0.4,8,12],[0.7,9,12],[1.27,10,50],[1.41,8,50],[1.5,1,26],[1.58,1,30],[1.64,1,35],[1.72,1,50],[1.76,0,50],[1.8,1,50],[1.84,0,45],[1.87,1,50],[1.92,0,50],[1.96,1,44],[2.02,0,50],[2.06,1,50],[2.11,0,42],[2.15,1,50],[2.2,0,50],[2.26,1,50],[2.4,3,22],[2.5,4,28],[2.6,3,24],[2.7,3,32],[3.2,14,30],[3.3,13,31],[3.45,5,27],[3.62,19,30],[4.2,12,20],[5.1,14,20],[6.0,12,20],[7.0,13,20]];
const R_VXD270_HI = [
720,700,690,710,680,700,690,680,660,650,640,600,
560,540,520,500,490,500,480,490,500,490,480,500,
470,50,40,400,550,650,700,800,750,780,850,1000,
1000,950,700,650,620,600,580,600,560,550,100,450,
450,480,500,420,400,380,420,480,470,480,490,480,
470,480,490,470,480,500,490,480,470,490,480,470,
480,470,490,480,470,480,490,470,480,490,470,480,
470,480,490,470,480,470,490,480,470,480,490,470,
480,470,480,490,470,480,470,490,480,470,480,490];
const R_VXD180_HI = [
100,60,80,50,60,90,40,30,60,40,30,20,
30,20,40,20,30,20,10,20,30,20,10,20,
20,30,30,300,600,750,950,1300,1200,1100,1250,1500,
1300,1550,1200,1000,900,850,800,750,780,700,100,650,
700,650,550,400,380,300,350,100,100,120,100,80,
60,80,100,60,80,120,60,80,100,60,80,100,
80,60,100,80,120,60,80,100,60,80,60,100,
80,60,100,120,80,60,100,80,60,100,80,60,
100,80,60,100,80,60,120,80,100,60,80,100];
const R_VXD180_SPK = [[1.38,0,950],[1.55,0,1400],[1.85,0,2400],[2.0,0,1350],[2.08,0,1650]];
const R_VXD270_SPK = [[1.85,0,1550],[1.95,0,1250]];

// ---------------- LAYOUT / STYLE ----------------
const MONO = "'DejaVu Sans Mono', monospace";
const SANS = "'DejaVu Sans', sans-serif";
const C = {lum:'#E6A100', ler:'#FF0000', her:'#0000FF', repL:'#FF1493', repH:'#1E90FF', q1:'#4169E1', q2:'#00CD00',
  rate:'#A020F0', eff:'#00B2EE', ecl:'#008B45', bg:'#FF6347', top:'#4876FF', cdc:'#00CD00', cdcav:'#008B00',
  dia:'#EE82EE', red:'#FF0000', blue:'#0000FF', srfw:'#FFA500'};
const PANELS = {
  L:{x:101, w:633, axisX:101, xr:[-1.04,7.96], tops:[176,232,289,345,401,457,515,597,677,758,838,918,999], labelMargin:8, dateMargin:32},
  R:{x:1003, w:633, axisX:1003, xr:[-1.09,7.91], tops:[54,112,172,231,289,350,411,499,584,669,754,840,925,1010], labelMargin:7, dateMargin:32}
};
const YL = [
 {min:0,max:49000,iv:10000,minor:5,name:'Luminosity',nx:51.7},
 {min:0,max:1480,iv:500,minor:10,name:'I[mA]',nx:59},
 {min:0,max:16,iv:5,minor:5,name:'Rep.\nRate[Hz]',nx:67.5},
 {min:0,max:3.4,iv:1,minor:5,name:'Q[nC]',nx:82},
 {min:0,max:3.4,iv:1,minor:5,name:'[mA/s]',nx:82.5},
 {min:-4,max:110,split:5,minor:4,name:'[%]',nx:66.7},
 {min:0,max:15400,iv:5000,minor:10,name:'ECL_BW',nx:44.7,bold:true,fs:13},
 {min:0,max:30,iv:5,minor:5,name:'[ms]',nx:71,bold:true,fs:12.5},
 {min:0,max:4.05,iv:1,minor:10,name:'[Hz]',nx:82},
 {min:0,max:300,iv:50,minor:5,name:'[uA]',nx:62,bold:true,fs:12.5},
 {min:0,max:50,iv:10,minor:5,name:'[mRad/s]',nx:71,bold:true,fs:12.5},
 {min:0,max:495,iv:100,minor:5,name:'VXD',nx:67.5,fs:12}
];
const YR = [
 {min:0,max:48300,iv:10000,minor:5,name:'Luminosity',nx:953},
 {min:0,max:1500,iv:500,minor:10,name:'I[mA]',nx:960},
 {min:0,max:13.6,iv:5,minor:5,name:'Rep.\nRate[Hz]',nx:969.5},
 {min:0,max:2.25,iv:0.5,minor:5,name:'Q[nC]',nx:969},
 {min:0,max:2.2,iv:0.5,minor:5,name:'[mA/s]',nx:969},
 {min:-5,max:109,split:5,minor:4,name:'[%]',nx:968},
 {min:0,max:5200,iv:1000,minor:5,name:'ECL_FW',nx:955.8,bold:true,fs:14.8},
 {min:0,max:20,iv:5,minor:5,name:'[ms]',nx:972,bold:true,fs:12.5},
 {min:0,max:5,iv:1,minor:5,name:'Photon\nRate',nx:979},
 {min:0,max:4.05,iv:1,minor:10,name:'[Hz]',nx:983},
 {min:0,max:300,iv:50,minor:5,name:'[uA]',nx:964,bold:true,fs:12.5},
 {min:0,max:50,iv:10,minor:5,name:'[mRad/s]',nx:972,bold:true,fs:12.5},
 {min:0,max:2580,iv:500,minor:5,name:'VXD',nx:959,bold:true,fs:14.8}
];

const grids=[], xAxes=[], yAxes=[], series=[], dateAxes=[], labelAxes=[];
const YLABEL = {fontFamily:MONO, fontSize:13, color:'#000', margin:3, interval:0, hideOverlap:false, showMinLabel:true, showMaxLabel:true, formatter:v=>String(+(+v).toFixed(3))};
function addPanel(P, specs, ticks){
  const base = grids.length;
  specs.forEach((sp,k)=>{
    const g = base+k, top = P.tops[k], h = P.tops[k+1]-P.tops[k];
    const isBottom = k === specs.length-1;
    grids.push({left:P.x, top:top, width:P.w, height:h, show:true, borderColor:'#000', borderWidth:1.5, backgroundColor:'transparent', containLabel:false, outerBoundsMode:'none'});
    xAxes.push({type:'value', gridIndex:g, min:P.xr[0], max:P.xr[1], splitNumber:9, axisLine:{show:false, onZero:false},
      axisTick:{show:true, inside:true, length:10, customValues:HOURS, lineStyle:{color:'#000', width:1.2}},
      minorTick:{show:true, splitNumber:3, length:5, lineStyle:{color:'#000', width:1}},
      splitLine:{show:true, lineStyle:{color:'#9a9a9a', width:1, type:[3,3]}},
      axisLabel: isBottom ? {show:true, customValues:HOURS, interval:0, hideOverlap:false, showMinLabel:true, showMaxLabel:true, margin:P.labelMargin,
        formatter:v=>HOUR_LABELS[String(Math.round(v))]||'',
        rich:{n:{fontFamily:SANS,fontSize:17,lineHeight:24,color:'#000'},
              s:{fontFamily:SANS,fontSize:12,lineHeight:6,verticalAlign:'top',color:'#000'}}} : {show:false}
    });
    if (isBottom) {
      DATE_LABELS.forEach(dl=>{
        dateAxes.push({type:'value', gridIndex:g, position:'bottom', min:P.xr[0], max:P.xr[1], axisLine:{show:false, onZero:false}, axisTick:{show:false},
          minorTick:{show:false}, splitLine:{show:false},
          axisLabel:{show:true, customValues:[dl[0]], interval:0, showMinLabel:true, showMaxLabel:true, hideOverlap:false, margin:P.dateMargin,
            formatter:()=>dl[1], fontFamily:MONO, fontSize:19.5, lineHeight:24, color:'#000'}});
      });
    }
    // labels are split over two axes (alternating) so that none gets thinned out
    const even = ticks[k].filter((v,i)=>i%2===0), odd = ticks[k].filter((v,i)=>i%2===1);
    const ya = {type:'value', gridIndex:g, min:sp.min, max:sp.max, axisLine:{show:false, onZero:false},
      axisTick:{show:true, inside:true, length:22, lineStyle:{color:'#000', width:1}},
      minorTick:{show:true, splitNumber:sp.minor, length:7, lineStyle:{color:'#000', width:1}},
      splitLine:{show:true, lineStyle:{color:'#9a9a9a', width:1, type:[3,3]}},
      axisLabel:Object.assign({customValues: even}, YLABEL),
      name: sp.name, nameLocation:'middle', nameRotate:90, nameGap: P.axisX - sp.nx, nameMoveOverlap:false,
      nameTextStyle:{fontFamily:MONO, fontSize: sp.fs||11.6, fontWeight: sp.bold?'bold':'normal', color:'#000', align:'center', verticalAlign:'middle', lineHeight:15}
    };
    if (sp.iv) ya.interval = sp.iv; else ya.splitNumber = sp.split;
    yAxes.push(ya);
    if (odd.length) {
      const yb = {type:'value', gridIndex:g, position:'left', min:sp.min, max:sp.max, axisLine:{show:false, onZero:false},
        axisTick:{show:false}, minorTick:{show:false}, splitLine:{show:false},
        axisLabel:Object.assign({customValues: odd}, YLABEL)};
      if (sp.iv) yb.interval = sp.iv; else yb.splitNumber = sp.split;
      labelAxes.push(yb);
    }
  });
  return base;
}
const GL = addPanel(PANELS.L, YL, L_YTICKS);
const GR = addPanel(PANELS.R, YR, R_YTICKS);
dateAxes.forEach(a=>xAxes.push(a));
labelAxes.forEach(a=>yAxes.push(a));

// ---- data helpers ----
function sampled(t0, lo, hi){ const out=[]; for(let i=0;i<hi.length;i++){ const l = (typeof lo==='number')?lo:lo[i]; if(hi[i]==null||l==null) continue; out.push([t0+i*DT, t0+(i+1)*DT, l, hi[i]]);} return out; }
function rectR(color){ return function(p, api){
  const a = api.coord([api.value(0), api.value(3)]), b = api.coord([api.value(1), api.value(2)]);
  let y=a[1], h=b[1]-a[1]; if(h<1.6){ y=(a[1]+b[1])/2-0.8; h=1.6; }
  return {type:'rect', shape:{x:a[0], y:y, width:b[0]-a[0]+0.5, height:h}, style:{fill:color}};
};}
function spikeR(color, w){ return function(p, api){
  const a = api.coord([api.value(0), api.value(1)]), b = api.coord([api.value(0), api.value(2)]);
  return {type:'line', shape:{x1:a[0], y1:a[1], x2:b[0], y2:b[1]}, style:{stroke:color, lineWidth:w||1}};
};}
function band(name,g,items,color){ series.push({type:'custom', name, xAxisIndex:g, yAxisIndex:g, data:items, renderItem:rectR(color), clip:true, itemStyle:{color}, encode:{x:[0,1], y:[2,3]}, silent:true, animation:false}); }
function spikes(name,g,items,color,w){ series.push({type:'custom', name, xAxisIndex:g, yAxisIndex:g, data:items, renderItem:spikeR(color,w), clip:true, itemStyle:{color}, encode:{x:0, y:[1,2]}, silent:true, animation:false}); }
function line(name,g,data,color,w){ series.push({type:'line', name, xAxisIndex:g, yAxisIndex:g, data, showSymbol:false, symbol:'none', lineStyle:{color, width:w||1.3}, itemStyle:{color}, silent:true, animation:false, clip:true}); }
function dots(name,g,data,color,s){ series.push({type:'scatter', name, xAxisIndex:g, yAxisIndex:g, data, symbolSize:s||3, itemStyle:{color}, silent:true, animation:false}); }

// ---- LEFT series ----
line('L_LUM', GL+0, L_LUM, C.lum, 1.3);
line('L_HER', GL+1, L_HER_I, C.her, 1.3);
line('L_LER', GL+1, L_LER_I, C.ler, 1.3);
line('L_REP', GL+2, L_REP, C.repL, 1.3);
band('L_Q1', GL+3, L_Q1, C.q1); dots('L_Q1', GL+3, L_Q1_DOTS, C.q1, 3);
band('L_Q2', GL+3, L_Q2, C.q2); band('L_Q2', GL+3, L_Q2_LOW, C.q2); dots('L_Q2', GL+3, L_Q2_DOTS, C.q2, 3);
band('L_RATE', GL+4, sampled(LT0, L_RATE_LO, L_RATE_HI), C.rate); dots('L_RATE', GL+4, L_RATE_DOTS, C.rate, 3.5);
dots('L_BCM1', GL+5, [], '#000'); dots('L_BCM2', GL+5, [], '#888');
band('L_EFF', GL+5, L_EFF_BASE, C.eff); band('L_EFF', GL+5, sampled(LT0, L_EFF_LO, L_EFF_HI), C.eff); dots('L_EFF', GL+5, L_EFF_DOTS, C.eff, 3);
band('L_ECL', GL+6, sampled(LT0, L_ECL_LO, L_ECL_HI), C.ecl); spikes('L_ECL', GL+6, L_ECL_SPK, C.ecl, 1.2);
band('L_BG', GL+7, sampled(LT0, L_BG_LO, L_BG_HI), C.bg); spikes('L_BG', GL+7, L_BG_SPK, C.bg, 1.2);
band('L_TOP', GL+8, sampled(LT0, L_TOP_LO, L_TOP_HI), C.top); spikes('L_TOP', GL+8, L_TOP_SPK, C.top, 1.2);
band('L_CDC', GL+9, sampled(LT0, L_CDC_LO, L_CDC_HI), C.cdc); spikes('L_CDC', GL+9, L_CDC_SPK, C.cdc, 1.2);
band('L_CDCAV', GL+9, sampled(LT0, L_CDCAV_LO, L_CDCAV_HI), C.cdcav); spikes('L_CDCAV', GL+9, L_CDCAV_SPK, C.cdcav, 1.2);
band('L_DIA', GL+10, sampled(LT0, L_DIA_LO, L_DIA_HI), C.dia); spikes('L_DIA', GL+10, L_DIA_SPK, C.dia, 1.2);
band('L_VXD135', GL+11, sampled(LT0, L_VXD135_LO, L_VXD135_HI), C.red); spikes('L_VXD135', GL+11, L_VXD135_SPK, C.red, 1.2);
band('L_VXD225', GL+11, sampled(LT0, L_VXD225_LO, L_VXD225_HI), C.blue);

// ---- RIGHT series ----
line('R_LUM', GR+0, R_LUM, C.lum, 1.3);
line('R_HER', GR+1, R_HER_I, C.her, 1.3);
line('R_LER', GR+1, R_LER_I, C.ler, 1.3);
line('R_REP', GR+2, R_REP, C.repH, 1.3);
band('R_Q1', GR+3, R_Q1, C.q1);
band('R_Q2', GR+3, R_Q2, C.q2); band('R_Q2', GR+3, R_Q2_LOW, C.q2); dots('R_Q2', GR+3, R_Q2_DOTS, C.q2, 3);
band('R_RATE', GR+4, sampled(RT0, R_RATE_LO, R_RATE_HI), C.rate); spikes('R_RATE', GR+4, R_RATE_SPK, C.rate, 2);
dots('R_BCM1', GR+5, [], '#000'); dots('R_BCM2', GR+5, [], '#888');
band('R_EFF', GR+5, R_EFF_BASE, C.eff); band('R_EFF', GR+5, sampled(RT0, R_EFF_LO, R_EFF_HI), C.eff); dots('R_EFF', GR+5, R_EFF_DOTS, C.eff, 3);
band('R_ECL', GR+6, sampled(RT0, R_ECL_LO, R_ECL_HI), C.ecl); spikes('R_ECL', GR+6, R_ECL_SPK, C.ecl, 1.2);
band('R_BG', GR+7, sampled(RT0, R_BG_LO, R_BG_HI), C.bg); spikes('R_BG', GR+7, R_BG_SPK, C.bg, 1.2);
line('R_SRBW', GR+8, R_SR_BW, C.red, 1.3); line('R_SRFW', GR+8, R_SR_FW, C.srfw, 1.3);
band('R_TOP', GR+9, sampled(RT0, R_TOP_LO, R_TOP_HI), C.top); spikes('R_TOP', GR+9, R_TOP_SPK, C.top, 1.2);
band('R_CDC', GR+10, sampled(RT0, R_CDC_LO, R_CDC_HI), C.cdc); spikes('R_CDC', GR+10, R_CDC_SPK, C.cdc, 1.2);
band('R_CDCAV', GR+10, sampled(RT0, R_CDCAV_LO, R_CDCAV_HI), C.cdcav); spikes('R_CDCAV', GR+10, R_CDCAV_SPK, C.cdcav, 1.2);
band('R_DIA', GR+11, sampled(RT0, R_DIA_LO, R_DIA_HI), C.dia); spikes('R_DIA', GR+11, R_DIA_SPK, C.dia, 1.2);
band('R_VXD180', GR+12, sampled(RT0, 0, R_VXD180_HI), C.red); spikes('R_VXD180', GR+12, R_VXD180_SPK, C.red, 1.5);
band('R_VXD270', GR+12, sampled(RT0, 0, R_VXD270_HI), C.blue); spikes('R_VXD270', GR+12, R_VXD270_SPK, C.blue, 1.5);

// ---- legends ----
const DISPLAY = {L_LER:'LER',L_HER:'HER',L_REP:'LER',L_Q1:'  QMD11P_1(nC)',L_Q2:'  QMD11P_2(nC)',L_RATE:'  Inj.Rate',
 L_BCM1:'  Inj.Eff(BCM1)',L_BCM2:'  Inj.Eff(BCM2)',L_EFF:'  Inj.Eff',L_ECL:'ECL_BW',L_BG:'ECL BG\nDuration',L_TOP:'TOP [Hz]',
 L_CDC:'CDC',L_CDCAV:'CDC_av',L_DIA:'Diamond',L_VXD225:'VXD_FW225',L_VXD135:'VXD_FW135',
 R_LER:'LER',R_HER:'HER',R_REP:'HER',R_Q1:'  QMD8E_1(nC)',R_Q2:'  QMD8E_2(nC)',R_RATE:'  Inj.Rate',
 R_BCM1:'  Inj.Eff(BCM1)',R_BCM2:'  Inj.Eff(BCM2)',R_EFF:'  Inj.Eff',R_ECL:'ECL_FW',R_BG:'ECL BG\nDuration',R_SRFW:'SR_FW',R_SRBW:'SR_BW',
 R_TOP:'TOP [Hz]',R_CDC:'CDC',R_CDCAV:'CDC_av',R_DIA:'Diamond',R_VXD180:'VXD_BW180',R_VXD270:'VXD_BW270'};
const LEG = [
 {box:[795,248,881,294], pl:6.4, items:[['L_LER',C.ler],['L_HER',C.her]]},
 {box:[780,301,881,339], pl:6.7, big:true, items:[['L_REP',C.repL]]},
 {box:[734,362,881,407], pl:4.5, dot:true, items:[['L_Q1',C.q1],['L_Q2',C.q2]]},
 {box:[769,417,881,446], pl:5, dot:true, items:[['L_RATE',C.rate]]},
 {box:[724,473,881,537], pl:4, dot:true, items:[['L_BCM1','#000'],['L_BCM2','#888'],['L_EFF','rgba(0,0,0,0)']]},
 {box:[768,533,881,562], pl:6.7, items:[['L_ECL',C.ecl]]},
 {box:[750,604,881,651], pl:6.7, items:[['L_BG',C.bg]]},
 {box:[750,693,881,722], pl:6.7, items:[['L_TOP',C.top]]},
 {box:[768,774,881,821], pl:6.7, items:[['L_CDC',C.cdc],['L_CDCAV',C.cdcav]]},
 {box:[759,854,881,883], pl:6.7, items:[['L_DIA',C.dia]]},
 {box:[741,934,881,981], pl:6.7, items:[['L_VXD225',C.blue],['L_VXD135',C.red]]},
 {box:[1697,128,1783,174], pl:6.4, items:[['R_LER',C.ler],['R_HER',C.her]]},
 {box:[1682,183,1783,223], pl:6.7, big:true, items:[['R_REP',C.repH]]},
 {box:[1644,247,1783,293], pl:5.2, dot:true, items:[['R_Q1',C.q1],['R_Q2',C.q2]]},
 {box:[1671,307,1783,336], pl:5, dot:true, items:[['R_RATE',C.rate]]},
 {box:[1626,367,1783,431], pl:4, dot:true, items:[['R_BCM1','#000'],['R_BCM2','#888'],['R_EFF','rgba(0,0,0,0)']]},
 {box:[1670,431,1783,459], pl:6.7, items:[['R_ECL',C.ecl]]},
 {box:[1652,507,1783,553], pl:6.7, items:[['R_BG',C.bg]]},
 {box:[1679,601,1783,647], pl:6.7, items:[['R_SRFW',C.srfw],['R_SRBW',C.red]]},
 {box:[1652,686,1783,714], pl:6.7, items:[['R_TOP',C.top]]},
 {box:[1670,771,1783,817], pl:6.7, items:[['R_CDC',C.cdc],['R_CDCAV',C.cdcav]]},
 {box:[1661,856,1783,885], pl:6.7, items:[['R_DIA',C.dia]]},
 {box:[1643,942,1783,988], pl:6.7, items:[['R_VXD180',C.red],['R_VXD270',C.blue]]}
];
const legends = LEG.map(L=>{
  const W = L.box[2]-L.box[0], H = L.box[3]-L.box[1];
  const iw = L.dot?7:40, ih = L.dot?7:1.5, lh = L.big?28:18, pr = 3;
  const nLines = L.items.reduce((s,it)=>s+DISPLAY[it[0]].split('\n').length,0);
  const pv = Math.max(1,(H-nLines*lh)/2);
  const tw = W - L.pl - iw - 5 - pr;
  return {show:true, orient:'vertical', left:L.box[0], top:L.box[1], padding:[pv,pr,pv,L.pl], itemGap:0,
    itemWidth:iw, itemHeight:ih, selectedMode:false, backgroundColor:'#fff', borderColor:'#000', borderWidth:1.5, borderRadius:0,
    shadowColor:'rgba(0,0,0,0.85)', shadowOffsetX:2, shadowOffsetY:2, shadowBlur:0,
    textStyle:{fontFamily: L.big? "'DejaVu Sans Condensed','Liberation Sans Narrow','DejaVu Sans',sans-serif" : MONO, fontSize: L.big?24:14.8, color:'#000', lineHeight:lh, width:tw, overflow:'none'},
    formatter:n=>DISPLAY[n],
    data: L.items.map(it=>({name:it[0], icon: L.dot?'circle':'rect', itemStyle:{color:it[1], borderWidth:0}}))
  };
});

const graphic = [
 {type:'rect', shape:{x:0,y:0,width:2,height:1062}, style:{fill:'#cfcfcf'}, silent:true},
 {type:'rect', shape:{x:902,y:0,width:2,height:1062}, style:{fill:'#cfcfcf'}, silent:true},
 {type:'rect', shape:{x:1803,y:0,width:2,height:1062}, style:{fill:'#cfcfcf'}, silent:true},
 {type:'text', x:37, y:692, style:{text:'x10', font:"14.8px 'DejaVu Sans Mono'", fill:'#000', verticalAlign:'middle'}, silent:true},
 {type:'text', x:63.5, y:684, style:{text:'6', font:"11px 'DejaVu Sans Mono'", fill:'#000', verticalAlign:'middle'}, silent:true},
 {type:'text', x:939, y:598, style:{text:'x10', font:"14.8px 'DejaVu Sans Mono'", fill:'#000', verticalAlign:'middle'}, silent:true},
 {type:'text', x:965.5, y:590, style:{text:'5', font:"11px 'DejaVu Sans Mono'", fill:'#000', verticalAlign:'middle'}, silent:true},
 {type:'text', x:939, y:683, style:{text:'x10', font:"14.8px 'DejaVu Sans Mono'", fill:'#000', verticalAlign:'middle'}, silent:true},
 {type:'text', x:965.5, y:675, style:{text:'6', font:"11px 'DejaVu Sans Mono'", fill:'#000', verticalAlign:'middle'}, silent:true}
];

const chart = echarts.init(document.getElementById('c'), null, {renderer:'canvas', width:1806, height:1062});
chart.setOption({animation:false, backgroundColor:'#fff', textStyle:{fontFamily:MONO},
  grid:grids, xAxis:xAxes, yAxis:yAxes, series:series, legend:legends, graphic:graphic, tooltip:{show:false}});
</script></body></html>
